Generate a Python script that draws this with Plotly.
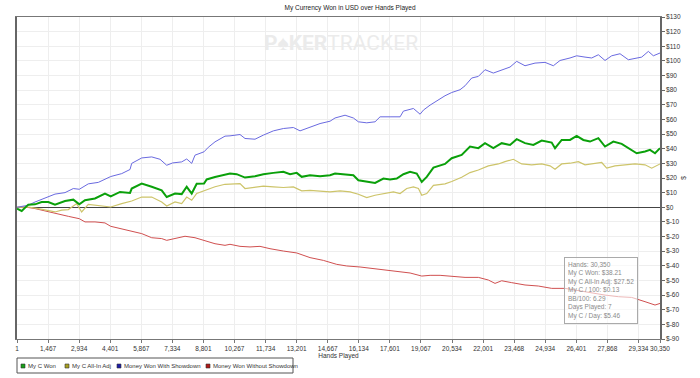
import plotly.graph_objects as go

# ---- data ----
blue_hands = [1, 534, 851, 1479, 1795, 2267, 2659, 2942, 3367, 3839, 4235, 4424, 4943, 5335, 5415,
              5887, 6359, 6751, 7067, 7350, 7775, 8011, 8247, 8403, 8828, 9031, 9347, 9819,
              10055, 10527, 10763, 11235, 11629, 12101, 12573, 13045, 13360, 13832, 14304, 14776,
              15012, 15485, 15878, 16114, 16508, 16901, 17137, 17609, 18082, 18239, 18711, 19026,
              19184, 19498, 19813,
              20203, 20518, 20911, 21147, 21462, 21776, 22091, 22484, 22878, 23271, 23586, 23979,
              24451, 24923, 25316, 25631, 26103, 26418, 26811, 27126, 27440, 27755, 28070, 28463,
              28856, 29250, 29486, 29800, 30036, 30350]
blue_vals = [0, 1.4, 3.6, 7, 9, 10, 12.8, 12.3, 16, 17, 20, 21, 23, 25.8, 30,
             33.7, 34.4, 32.8, 28.7, 30.3, 31, 33, 30, 35.6, 37.9, 41, 44.7, 48.6,
             48.8, 49.7, 47, 46.5, 49.3, 52.2, 53.8, 54.5, 52.2, 54.5, 57.2, 58.8,
             61, 62.9, 61, 58.4, 57.7, 58.4, 61.8, 61.8, 61.8, 65.7, 67.5, 63.6,
             66.4, 69.8, 72.7,
             76.2, 78.4, 80.3, 83, 88.3, 89.4, 94, 91.7, 93.5, 95.8, 99.7, 96.7,
             98.5, 99, 96.7, 100.3, 102, 103.5, 102.6, 102, 104.2, 100.3, 103.5, 104.9,
             100.8, 102, 102.6, 106.5, 103.5, 105.4]

green_hands = [1, 221, 534, 851, 1165, 1479, 1795, 2267, 2659, 2942, 3210, 3681, 4153, 4424, 4864,
               5335, 5415, 5887, 6359, 6830, 7067, 7460, 7775, 8011, 8247, 8482, 8828, 8954, 9347,
               9819, 10055, 10370, 10763, 11235, 11629, 12101, 12573, 12888, 13203, 13439, 13832,
               14304, 14776, 15012, 15406, 15878, 16114, 16508, 16901, 17295, 17609, 17924, 18239,
               18554, 18869, 19105, 19341, 19656, 19970,
               20203, 20518, 20990, 21383, 21776, 22091, 22484, 22878, 23271, 23586, 23979,
               24372, 24766, 25238, 25395, 25710, 26103, 26418, 26732, 27047, 27440, 27755,
               28148, 28542, 28856, 29250, 29643, 29879, 30115, 30350]
green_vals = [-1, -2.5, 1.8, 2, 3.6, 3.6, 1.8, 4.3, 5.2, 2, 4.8, 6, 9.4, 7.5, 10.5,
              9.8, 12.8, 16.2, 14, 11.6, 7, 9.4, 9, 14, 9.4, 16, 16.2, 19, 20.7,
              22.3, 23, 22.6, 20.3, 21.2, 22.6, 23.5, 24.2, 22.6, 23.5, 20.8, 21.9,
              21.2, 21.9, 23, 22.6, 21.9, 18.5, 17.3, 16.6, 19.6, 18.9, 19.6, 22.6,
              24.2, 23, 17.3, 20.8, 27.1, 28.7,
              29.6, 33.5, 35.8, 41.5, 40.4, 43.8, 40.4, 43.8, 42.6, 46.5, 43.8,
              42.6, 45.6, 44.2, 40.4, 46, 46, 48.8, 46, 44.9, 47.2, 41.5,
              44.9, 43.3, 40.4, 36.9, 38.1, 39.2, 36.9, 40.4]

adj_hands = [1, 534, 1007, 1479, 1795, 2110, 2425, 2817, 3053, 3367, 3839, 4424, 4943, 5415,
             5887, 6359, 6830, 7067, 7460, 7775, 8011, 8247, 8482, 8828, 9347, 9819,
             10055, 10527, 10763, 11235, 11629, 12101, 12573, 13045, 13439, 13832, 14304, 14776,
             15248, 15721, 16114, 16508, 16901, 17295, 17767, 18082, 18397, 18711, 18948, 19105,
             19341, 19656, 20128,
             20203, 20518, 20990, 21383, 21776, 22248, 22720, 23035, 23428, 23822, 24294,
             24766, 25159, 25395, 25710, 26103, 26496, 26811, 27204, 27598, 27834, 28227,
             28699, 29171, 29643, 29958, 30350]
adj_vals = [0, 0.2, -0.9, -2, -3.2, -2, -1.6, 2.5, -3.2, 2, 1.4, 0.2, 2.5, 4.3,
            7, 7, 3.6, 0.9, 3.6, 2.5, 7, 4.8, 9.4, 11.2, 14, 15.7,
            15.7, 16.2, 12.8, 13.9, 14.4, 13.9, 13.5, 13.9, 11.2, 11.6, 11.2, 10.5,
            11.2, 10.5, 8.9, 6.6, 8.2, 9.4, 10.5, 9.4, 12.8, 13.9, 12.8, 8.2,
            9.4, 15, 16.2,
            16, 17.6, 20.5, 23.7, 25.5, 28.3, 29.6, 31.2, 32.8, 29.6, 29,
            29.6, 28.3, 26, 29.6, 30.1, 31.2, 29, 29.6, 30.6, 26.7, 28.3,
            29, 29.6, 29, 26.7, 29.6]

red_hands = [1, 378, 851, 1479, 1951, 2425, 2942, 3210, 3681, 4153, 4424, 4943, 5415, 5887,
             6359, 6830, 7067, 7460, 7932, 8403, 8828, 9347, 9819,
             10055, 10527, 10999, 11471, 11943, 12573, 13203, 13832, 14462, 15091, 15563,
             16193, 16823, 17295, 17924, 18554, 19105, 19498, 19970,
             20203, 20675, 21147, 21776, 22248, 22563, 22878, 23350, 23979, 24608, 25238,
             25867, 26496, 27126, 27755, 28384, 29014, 29643, 30115, 30350]
red_vals = [0, 0.2, -0.9, -3.2, -4.8, -6.2, -7.8, -10, -10, -10.7, -13, -14.6, -16.2, -18,
            -20.8, -21.4, -22.6, -21.4, -19.8, -20.8, -22.6, -24.9, -26,
            -25.3, -26.7, -27.1, -26.7, -28.3, -29.9, -31.2, -34.4, -36.3, -39, -40.1,
            -40.8, -42, -42.6, -43.6, -44.9, -47, -46.5, -46.5,
            -46.7, -47, -47.9, -47.9, -49.7, -52, -50.2, -51.5, -53.1, -53.8, -55.4,
            -55.4, -57, -58.8, -60, -61.1, -61.6, -64.5, -66.8, -65.7]

x_tickvals = [1, 1467, 2934, 4401, 5867, 7334, 8801, 10267, 11734, 13201, 14667, 16134,
              17601, 19067, 20534, 22001, 23468, 24934, 26401, 27868, 29334, 30350]
x_ticktext = ["1", "1,467", "2,934", "4,401", "5,867", "7,334", "8,801", "10,267", "11,734",
              "13,201", "14,667", "16,134", "17,601", "19,067", "20,534", "22,001", "23,468",
              "24,934", "26,401", "27,868", "29,334", "30,350"]
y_tickvals = [130, 120, 110, 100, 90, 80, 70, 60, 50, 40, 30, 20, 10, 0,
              -10, -20, -30, -40, -50, -60, -70, -80, -90]
y_ticktext = ["$130", "$120", "$110", "$100", "$90", "$80", "$70", "$60", "$50", "$40",
              "$30", "$20", "$10", "$0", "$-10", "$-20", "$-30", "$-40", "$-50", "$-60",
              "$-70", "$-80", "$-90"]

series_names = ["My C Won", "My C All-In Adj", "Money Won With Showdown", "Money Won Without Showdown"]
legend_colors = ["#18a018", "#a8a020", "#1c1ca8", "#b01818"]

tooltip_lines = ["Hands: 30,350", "My C Won: $38.21", "My C All-In Adj: $27.52",
                 "My C / 100: $0.13", "BB/100: 6.29", "Days Played: 7", "My C / Day: $5.46"]

FONT = "Liberation Sans"
W, H = 700, 378
ML, MR, MT, MB = 17, 40, 17, 39
PW, PH = W - ML - MR, H - MT - MB


def px_x(p):
    return (p - ML) / PW


def px_y(p):
    return (H - MB - p) / PH


fig = go.Figure()

fig.add_trace(go.Scatter(x=red_hands, y=red_vals, mode="lines",
                         line=dict(color="#d05050", width=1), showlegend=False))
fig.add_trace(go.Scatter(x=adj_hands, y=adj_vals, mode="lines",
                         line=dict(color="#cdc46a", width=1.2), showlegend=False))
fig.add_trace(go.Scatter(x=blue_hands, y=blue_vals, mode="lines",
                         line=dict(color="#6a6ae0", width=1), showlegend=False))
fig.add_trace(go.Scatter(x=green_hands, y=green_vals, mode="lines",
                         line=dict(color="#0aa00a", width=2), showlegend=False))

fig.update_layout(
    width=W, height=H,
    margin=dict(l=ML, r=MR, t=MT, b=MB),
    paper_bgcolor="white", plot_bgcolor="white",
    font=dict(family=FONT, size=6.5, color="#333"),
    title=dict(text="My Currency Won in USD over Hands Played", x=0.5, xanchor="center",
               y=1 - 8 / H, yanchor="middle", font=dict(family=FONT, size=6.5, color="#222")),
    showlegend=False,
)

fig.update_xaxes(range=[1, 30350], tickvals=x_tickvals, ticktext=x_ticktext, tickangle=0,
                 showgrid=True, gridcolor="#eeeeee", gridwidth=1,
                 showline=True, linecolor="#777", linewidth=1, mirror=True,
                 ticks="outside", ticklen=3, tickcolor="#777",
                 tickfont=dict(family=FONT, size=6.5, color="#333"),
                 zeroline=False,
                 title=dict(text="Hands Played", standoff=2,
                            font=dict(family=FONT, size=6.5, color="#333")))
fig.update_yaxes(range=[-90, 130], side="right", tickvals=y_tickvals, ticktext=y_ticktext,
                 showgrid=True, gridcolor="#eeeeee", gridwidth=1,
                 showline=True, linecolor="#666", linewidth=1.5, mirror=True,
                 ticks="outside", ticklen=3, tickcolor="#666",
                 tickfont=dict(family=FONT, size=6.5, color="#333"),
                 zeroline=True, zerolinecolor="#444", zerolinewidth=1.3,
                 title=dict(text="$", standoff=2, font=dict(family=FONT, size=6.5, color="#333")))

# legend box (drawn by hand to match compact layout)
fig.add_shape(type="rect", xref="paper", yref="paper",
              x0=px_x(17), x1=px_x(293), y0=px_y(373), y1=px_y(358),
              line=dict(color="#555", width=1), fillcolor="white")
swatch_px = [21, 65, 117, 206]
text_px = [26, 70, 122, 211]
for name, col, sx, tx in zip(series_names, legend_colors, swatch_px, text_px):
    fig.add_shape(type="rect", xref="paper", yref="paper",
                  x0=px_x(sx), x1=px_x(sx + 4), y0=px_y(368), y1=px_y(364),
                  line=dict(color="#333", width=0.6), fillcolor=col)
    fig.add_annotation(xref="paper", yref="paper", x=px_x(tx), y=px_y(366),
                       xanchor="left", yanchor="middle", showarrow=False, text=name,
                       font=dict(family=FONT, size=6, color="#333"))

# watermark
fig.add_annotation(xref="paper", yref="paper", x=px_x(341), y=px_y(43),
                   xanchor="center", yanchor="middle", showarrow=False,
                   text="<b>P\u2660KER</b>TRACKER",
                   font=dict(family="Roboto", size=21, color="#ebebeb"))

# hover-style info box
fig.add_annotation(xref="paper", yref="paper", x=px_x(564), y=px_y(257),
                   xanchor="left", yanchor="top", showarrow=False, align="left",
                   text="<br>".join(tooltip_lines),
                   font=dict(family=FONT, size=6.5, color="#8a8a8a"),
                   bgcolor="rgba(255,255,255,0.6)", bordercolor="#aaaaaa", borderwidth=1,
                   borderpad=3)

fig.write_html("out.html", config={"displayModeBar": False},
               post_script="document.body.style.margin='0';document.body.style.overflow='hidden';")
